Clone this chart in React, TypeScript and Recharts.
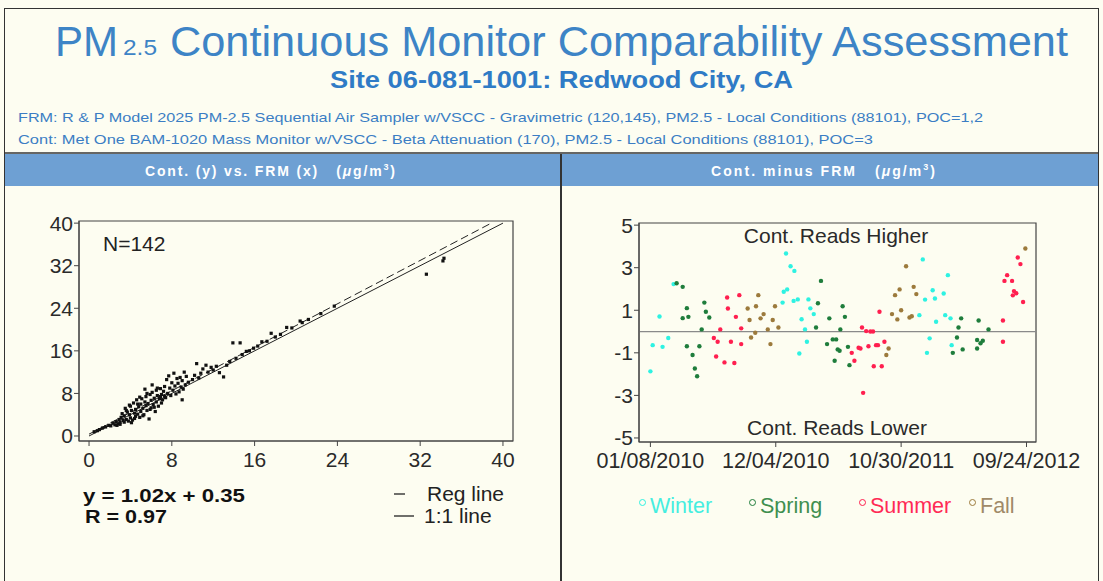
import React from 'react';
import { ScatterChart, Scatter, XAxis, YAxis, ReferenceArea, ReferenceLine } from 'recharts';

// ---------- Left panel: Cont. (y) vs FRM (x) ----------
const frmValues = [0.5,0.8,1.0,1.3,1.6,1.9,2.1,2.3,2.5,2.6,2.8,2.9,
3.0,3.1,3.2,3.3,3.4,3.5,3.6,3.7,3.8,3.9,4.0,4.0,4.1,4.2,4.3,4.4,4.5,4.5,4.6,4.7,4.8,4.9,5.0,5.0,5.1,5.2,5.3,5.4,5.5,5.5,5.6,5.7,5.8,5.9,6.0,6.0,6.1,6.2,6.3,6.4,6.5,6.5,6.6,6.7,6.8,6.9,7.0,7.0,7.1,
2.7,3.0,3.4,3.6,4.1,4.4,4.7,5.2,5.6,5.9,6.3,6.6,6.9,3.9,4.9,5.4,6.1,7.3,
7.2,7.3,7.4,7.5,7.6,7.7,7.8,7.9,8.0,8.1,8.2,8.3,8.4,8.5,8.6,8.7,8.8,8.9,9.0,9.0,9.1,9.2,9.3,9.4,9.6,
10.0,10.2,10.4,10.6,10.8,11.0,11.3,11.5,11.8,12.0,12.3,12.6,13.0,13.3,
13.6,13.9,14.2,14.6,14.8,15.2,15.5,15.9,16.3,16.7,17.2,17.6,18.0,18.5,19.1,19.6,20.4,20.6,21.2,22.4,23.7,32.6,34.2,34.3];
const contValues = [0.8,1.0,1.2,1.5,1.7,2.0,1.9,2.4,2.1,2.7,2.3,3.1,
2.6,3.5,4.2,2.9,3.8,5.2,3.1,4.5,2.8,4.0,3.4,5.6,4.8,3.0,6.2,4.3,3.7,5.0,6.8,4.1,5.5,3.5,4.6,6.0,7.0,5.2,4.0,6.4,5.7,7.4,4.8,6.1,3.2,7.8,5.3,6.7,8.2,5.9,7.1,4.6,6.4,8.6,7.6,5.6,7.0,8.9,6.2,7.8,6.8,
2.0,2.2,2.6,4.8,2.5,3.3,6.0,3.8,8.0,5.0,5.4,9.0,7.4,5.8,7.3,8.8,9.6,7.5,
8.4,9.3,7.2,10.6,8.0,11.3,9.0,7.6,10.0,8.6,11.8,9.4,7.9,10.8,9.9,8.3,11.0,9.2,6.8,10.4,8.8,12.0,9.6,11.2,10.1,
10.6,11.4,13.6,10.9,11.8,12.6,13.3,12.0,12.9,12.4,13.1,11.9,11.1,13.3,
14.0,17.5,14.6,17.5,15.3,15.9,16.0,16.5,16.9,17.7,17.8,19.3,18.6,19.1,20.4,20.3,21.6,21.3,21.9,23.0,24.4,30.4,32.9,33.4];
const frmTicks = [0, 8, 16, 24, 32, 40];
const frmDomain = [-0.97, 40.97];
const contDomain = [-0.94, 40.4];
const regSlope = 1.02;
const regIntercept = 0.35;
const rValue = 0.97;

// ---------- Right panel: Cont. minus FRM over time (days since 01/08/2010) ----------
const winterDays = [61,24,47,6,32,0,357,369,379,360,351,377,388,416,348,421,430,398,407,412,392,717,743,723,749,708,752,735,728,783,772,776,790,793];
const winterDiff = [2.23,0.71,-0.3,-0.64,-0.72,-1.87,3.67,3.07,2.85,1.98,1.87,1.44,1.51,1.51,1.36,1.09,0.82,0.58,0.1,-0.48,-1.03,3.39,1.94,1.5,1.55,0.77,0.46,-0.32,-1.0,2.65,1.79,0.77,0.62,-0.64];
const springDays = [69,85,96,142,146,155,85,100,135,96,129,111,117,123,449,441,436,471,465,480,489,493,485,506,512,500,520,498,524,818,811,807,822,796,864,890,860,875,869,860];
const springDiff = [2.27,2.1,1.1,1.36,0.93,0.66,0.63,0.69,0.1,-0.69,-0.69,-1.1,-1.74,-2.1,2.38,1.33,0.19,0.62,-0.59,-0.37,-0.37,-0.84,-1.37,1.19,0.69,0.1,-0.72,-0.9,-1.58,0.62,0.19,-0.28,-0.84,-1.0,0.52,0.1,-0.4,-0.43,-0.55,-0.8];
const summerDays = [202,234,204,225,184,167,177,212,239,173,195,221,239,603,557,568,579,586,548,553,530,574,594,599,616,537,588,609,560,928,928,967,974,939,932,952,957,963,954,981];
const summerDiff = [1.6,1.71,1.08,0.69,0.1,-0.3,-0.48,-0.48,-0.59,-1.17,-1.45,-1.48,0.15,0.93,0.19,0.02,0.0,0.0,-0.76,-0.8,-1.0,-0.69,-0.64,-0.64,-0.48,-1.37,-1.63,-1.63,-2.88,0.52,-0.48,3.48,3.17,2.65,2.38,2.38,1.9,1.8,1.7,1.39];
const fallDays = [284,256,278,328,298,290,261,322,337,309,276,265,316,627,621,673,656,693,700,644,660,636,650,682,688,987];
const fallDiff = [1.71,1.08,1.19,1.19,0.82,0.62,0.54,0.54,0.19,0.1,-0.06,-0.28,-0.59,-0.8,-1.1,3.07,1.98,2.1,1.76,1.71,1.0,0.82,0.57,0.66,0.72,3.9];
const dateTicks = [0, 330, 660, 990];
const dateLabels = ['01/08/2010', '12/04/2010', '10/30/2011', '09/24/2012'];
const diffTicks = [5, 3, 1, -1, -3, -5];
const dayDomain = [-30, 1015];
const diffDomain = [-5.19, 5.1];

const seasonNames = ['Winter', 'Spring', 'Summer', 'Fall'];
const seasonColors = ['#2ef2e2', '#1f7d3c', '#ff1f4f', '#9c7a3c'];
const legendTextColors = ['#45eee0', '#3f8f4f', '#ff2a55', '#a08a68'];

const zip = (xs: number[], ys: number[], kx: string, ky: string) =>
  xs.slice(0, Math.min(xs.length, ys.length)).map((v, i) => ({ [kx]: v, [ky]: ys[i] }));

const scatterPairs = zip(frmValues, contValues, 'x', 'y');
const oneToOneLine = [{ x: 0, y: 0 }, { x: 40, y: 40 }];
const regLine = [{ x: 0, y: regIntercept }, { x: (40 - regIntercept) / regSlope, y: 40 }];
const seasonData = [
  zip(winterDays, winterDiff, 'day', 'diff'),
  zip(springDays, springDiff, 'day', 'diff'),
  zip(summerDays, summerDiff, 'day', 'diff'),
  zip(fallDays, fallDiff, 'day', 'diff'),
];

const FONT = '"Liberation Sans", Arial, sans-serif';
const BG = '#fdfdf1';
const BLUE = '#3d84c6';

const blackDot = (p: any) => <rect x={p.cx - 1.6} y={p.cy - 1.6} width={3.2} height={3.2} fill="#111" />;
const noDot = () => <g />;
const colorDot = (color: string) => (p: any) => <circle cx={p.cx} cy={p.cy} r={2.2} fill={color} />;

const tickStyle = { fontSize: 21, fill: '#2a2a2a', fontFamily: FONT };
const dateTickStyle = { fontSize: 21.5, fill: '#2a2a2a', fontFamily: FONT };

export default function App() {
  return (
    <div style={{ position: 'absolute', left: 0, top: 0, width: 1103, height: 581, background: BG, overflow: 'hidden', fontFamily: FONT }}>
      <svg width={1103} height={581} style={{ position: 'absolute', left: 0, top: 0 }}>
        <rect x={4.5} y={8.5} width={1094} height={600} fill="none" stroke="#333" strokeWidth={1} />
        <text x={55} y={56} fontSize={42} fill={BLUE} fontFamily={FONT} textLength={63} lengthAdjust="spacingAndGlyphs">PM</text>
        <text x={123} y={55} fontSize={22} fill={BLUE} fontFamily={FONT} textLength={34} lengthAdjust="spacingAndGlyphs">2.5</text>
        <text x={170} y={56} fontSize={42} fill={BLUE} fontFamily={FONT} textLength={898} lengthAdjust="spacingAndGlyphs">Continuous Monitor Comparability Assessment</text>
        <text x={330} y={88} fontSize={23} fontWeight="bold" fill="#2f7bc6" fontFamily={FONT} textLength={463} lengthAdjust="spacingAndGlyphs">Site 06-081-1001: Redwood City, CA</text>
        <text x={18} y={122} fontSize={13.5} fill="#3b7dc4" fontFamily={FONT} textLength={965} lengthAdjust="spacingAndGlyphs">FRM: R &amp; P Model 2025 PM-2.5 Sequential Air Sampler w/VSCC - Gravimetric (120,145), PM2.5 - Local Conditions (88101), POC=1,2</text>
        <text x={18} y={144} fontSize={13.5} fill="#3b7dc4" fontFamily={FONT} textLength={855} lengthAdjust="spacingAndGlyphs">Cont: Met One BAM-1020 Mass Monitor w/VSCC - Beta Attenuation (170), PM2.5 - Local Conditions (88101), POC=3</text>
        <line x1={4} y1={153} x2={1099} y2={153} stroke="#333" strokeWidth={1.5} />
        <rect x={5} y={154} width={1093} height={32} fill="#6ea0d3" />
        <line x1={561} y1={154} x2={561} y2={581} stroke="#333" strokeWidth={2} />
        <text x={145} y={176} fontSize={14} fontWeight="bold" fill="#ffffff" fontFamily={FONT} textLength={250} lengthAdjust="spacing" style={{ whiteSpace: 'pre' }}>
          Cont. (y) vs. FRM (x)   (<tspan fontStyle="italic">μ</tspan>g/m<tspan fontSize={9} dy={-6}>3</tspan><tspan dy={6}>)</tspan>
        </text>
        <text x={711} y={176} fontSize={14} fontWeight="bold" fill="#ffffff" fontFamily={FONT} textLength={224} lengthAdjust="spacing" style={{ whiteSpace: 'pre' }}>
          Cont. minus FRM   (<tspan fontStyle="italic">μ</tspan>g/m<tspan fontSize={9} dy={-6}>3</tspan><tspan dy={6}>)</tspan>
        </text>
      </svg>

      <div style={{ position: 'absolute', left: 0, top: 200 }}>
        <ScatterChart width={563} height={280} margin={{ top: 21, right: 50, bottom: 9, left: 0 }}>
          <XAxis type="number" dataKey="x" domain={frmDomain} ticks={frmTicks} interval={0} allowDataOverflow
            tick={tickStyle} tickLine={{ stroke: '#444' }} axisLine={{ stroke: '#444' }} tickSize={5} tickMargin={6} height={30} />
          <YAxis type="number" dataKey="y" domain={contDomain} ticks={frmTicks} interval={0} allowDataOverflow
            tick={tickStyle} tickLine={{ stroke: '#444' }} axisLine={{ stroke: '#444' }} tickSize={5} tickMargin={1} width={79} />
          <ReferenceArea x1={frmDomain[0]} x2={frmDomain[1]} y1={contDomain[0]} y2={contDomain[1]} fill="none" stroke="#444" strokeWidth={1.2} ifOverflow="visible" />
          <Scatter data={oneToOneLine} line={{ stroke: '#222', strokeWidth: 1 }} shape={noDot} isAnimationActive={false} />
          <Scatter data={regLine} line={{ stroke: '#222', strokeWidth: 1, strokeDasharray: '8 4' }} shape={noDot} isAnimationActive={false} />
          <Scatter data={scatterPairs} shape={blackDot} isAnimationActive={false} />
        </ScatterChart>
      </div>

      <div style={{ position: 'absolute', left: 563, top: 200 }}>
        <ScatterChart width={540} height={280} margin={{ top: 23, right: 67, bottom: 8, left: 0 }}>
          <XAxis type="number" dataKey="day" domain={dayDomain} ticks={dateTicks} interval={0} allowDataOverflow
            tickFormatter={(v: number) => dateLabels[dateTicks.indexOf(v)] ?? ''}
            tick={dateTickStyle} tickLine={{ stroke: '#444' }} axisLine={{ stroke: '#444' }} tickSize={5} tickMargin={6} height={30} />
          <YAxis type="number" dataKey="diff" domain={diffDomain} ticks={diffTicks} interval={0} allowDataOverflow
            tick={tickStyle} tickLine={{ stroke: '#444' }} axisLine={{ stroke: '#444' }} tickSize={5} tickMargin={1} width={76} />
          <ReferenceArea x1={dayDomain[0]} x2={dayDomain[1]} y1={diffDomain[0]} y2={diffDomain[1]} fill="none" stroke="#444" strokeWidth={1.2} ifOverflow="visible" />
          <ReferenceLine y={0} stroke="#8a8a8a" strokeWidth={1.2} />
          {seasonData.map((d, i) => (
            <Scatter key={seasonNames[i]} name={seasonNames[i]} data={d} shape={colorDot(seasonColors[i])} isAnimationActive={false} />
          ))}
        </ScatterChart>
      </div>

      <svg width={1103} height={581} style={{ position: 'absolute', left: 0, top: 0, pointerEvents: 'none' }}>
        <text x={103} y={251} fontSize={21} fill="#222" fontFamily={FONT}>N={frmValues.length}</text>
        <text x={83} y={502} fontSize={19} fontWeight="bold" fill="#111" fontFamily={FONT} textLength={162} lengthAdjust="spacingAndGlyphs">{`y = ${regSlope.toFixed(2)}x + ${regIntercept.toFixed(2)}`}</text>
        <text x={85} y={523} fontSize={19} fontWeight="bold" fill="#111" fontFamily={FONT} textLength={82} lengthAdjust="spacingAndGlyphs">{`R = ${rValue.toFixed(2)}`}</text>
        <line x1={394} y1={494} x2={405} y2={494} stroke="#222" strokeWidth={1.3} />
        <text x={427} y={501} fontSize={21} fill="#222" fontFamily={FONT}>Reg line</text>
        <line x1={394} y1={516} x2={414} y2={516} stroke="#222" strokeWidth={1.3} />
        <text x={424} y={523} fontSize={21} fill="#222" fontFamily={FONT}>1:1 line</text>
        <text x={836} y={243} fontSize={21} fill="#2a2a2a" fontFamily={FONT} textAnchor="middle">Cont. Reads Higher</text>
        <text x={837} y={435} fontSize={21} fill="#2a2a2a" fontFamily={FONT} textAnchor="middle">Cont. Reads Lower</text>
      </svg>

      <div style={{ position: 'absolute', left: 639, top: 493, display: 'flex' }}>
        {seasonNames.map((n, i) => (
          <div key={n} style={{ width: 110, display: 'flex', alignItems: 'flex-start', fontSize: 21.5, lineHeight: '26px', color: legendTextColors[i] }}>
            <span style={{ display: 'inline-block', width: 5, height: 5, border: `1.5px solid ${seasonColors[i]}`, borderRadius: '50%', marginTop: 6, marginRight: 4 }} />
            <span>{n}</span>
          </div>
        ))}
      </div>
    </div>
  );
}
